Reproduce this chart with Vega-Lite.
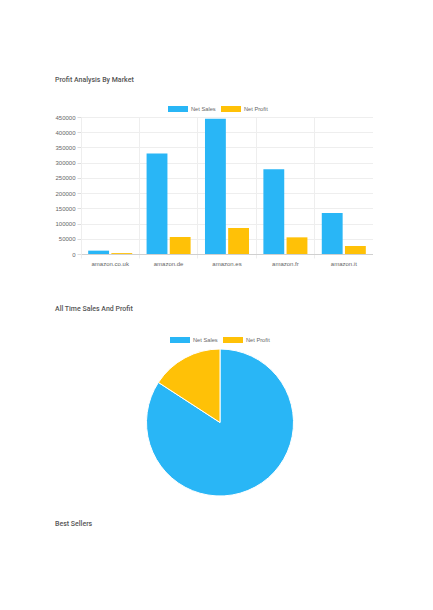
{
  "$schema": "https://vega.github.io/schema/vega-lite/v6.json",
  "background": "white",
  "padding": {"left": 54, "top": 76, "right": 0, "bottom": 0},
  "title": {"text": "Best Sellers", "orient": "bottom", "anchor": "start", "fontSize": 7, "font": "Roboto", "fontWeight": 500, "color": "#555555", "offset": 22},
  "datasets": {
    "markets": [
      {"market": "amazon.co.uk", "series": "Net Sales", "value": 11000},
      {"market": "amazon.co.uk", "series": "Net Profit", "value": 3000},
      {"market": "amazon.de", "series": "Net Sales", "value": 330000},
      {"market": "amazon.de", "series": "Net Profit", "value": 55800},
      {"market": "amazon.es", "series": "Net Sales", "value": 444500},
      {"market": "amazon.es", "series": "Net Profit", "value": 85400},
      {"market": "amazon.fr", "series": "Net Sales", "value": 278000},
      {"market": "amazon.fr", "series": "Net Profit", "value": 54700},
      {"market": "amazon.it", "series": "Net Sales", "value": 134700},
      {"market": "amazon.it", "series": "Net Profit", "value": 26300}
    ]
  },
  "spacing": 39,
  "resolve": {"scale": {"color": "independent"}, "legend": {"color": "independent"}},
  "vconcat": [
    {
      "title": {"text": "Profit Analysis By Market", "anchor": "start", "fontSize": 7, "font": "Roboto", "fontWeight": 500, "color": "#555555", "offset": 16},
      "width": 292,
      "height": 137,
      "data": {"name": "markets"},
      "mark": {"type": "bar"},
      "encoding": {
        "x": {
          "field": "market", "type": "nominal", "sort": null,
          "scale": {"paddingInner": 0, "paddingOuter": 0},
          "axis": {"title": null, "labelAngle": 0, "bandPosition": 0, "grid": true, "gridColor": "#eeeeee", "domainColor": "#d0d0d0", "tickColor": "#eeeeee", "tickSize": 4, "labelFontSize": 6, "labelColor": "#666666", "labelPadding": 2, "labelFont": "Liberation Sans"}
        },
        "xOffset": {"field": "series", "type": "nominal", "sort": ["Net Sales", "Net Profit"], "scale": {"paddingInner": 0.1, "paddingOuter": 0.31}},
        "y": {
          "field": "value", "type": "quantitative",
          "scale": {"domain": [0, 450000], "nice": false},
          "axis": {"title": null, "values": [0, 50000, 100000, 150000, 200000, 250000, 300000, 350000, 400000, 450000], "format": "d", "gridColor": "#eeeeee", "domainColor": "#eeeeee", "tickColor": "#dddddd", "tickSize": 4, "labelFontSize": 6, "labelColor": "#666666", "labelPadding": 2, "labelFont": "Liberation Sans"}
        },
        "color": {
          "field": "series", "type": "nominal", "sort": ["Net Sales", "Net Profit"],
          "scale": {"domain": ["Net Sales", "Net Profit"], "range": ["#29b6f6", "#ffc107"]},
          "legend": {"title": null, "orient": "none", "direction": "horizontal", "legendX": 87, "legendY": -18}
        }
      }
    },
    {
      "title": {"text": "All Time Sales And Profit", "anchor": "start", "fontSize": 7, "font": "Roboto", "fontWeight": 500, "color": "#555555", "offset": 18, "dx": -26},
      "width": 278,
      "height": 147,
      "data": {"name": "markets"},
      "transform": [{"aggregate": [{"op": "sum", "field": "value", "as": "total"}], "groupby": ["series"]}],
      "mark": {"type": "arc", "stroke": "white", "strokeWidth": 1},
      "encoding": {
        "theta": {"field": "total", "type": "quantitative", "stack": true},
        "order": {"field": "series", "sort": "descending"},
        "color": {
          "field": "series", "type": "nominal", "sort": ["Net Sales", "Net Profit"],
          "scale": {"domain": ["Net Sales", "Net Profit"], "range": ["#29b6f6", "#ffc107"]},
          "legend": {"title": null, "orient": "top", "direction": "horizontal", "offset": 6.5}
        }
      }
    }
  ],
  "config": {
    "view": {"stroke": null},
    "legend": {
      "symbolType": "M-1,-0.3H1V0.3H-1Z",
      "symbolSize": 400,
      "symbolStrokeWidth": 0,
      "labelFontSize": 5.7,
      "labelColor": "#666666",
      "labelFont": "Liberation Sans",
      "labelOffset": 3,
      "columnPadding": 5,
      "padding": 0,
      "layout": {"top": {"anchor": "middle"}}
    }
  }
}
